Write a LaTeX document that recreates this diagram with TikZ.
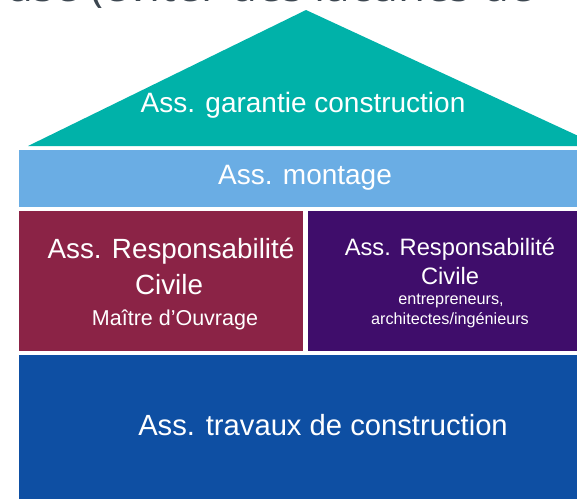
\documentclass[tikz,border=0pt]{standalone}
\usepackage{fontspec}
\setmainfont{Liberation Sans}
\newfontfamily\titlefont{Open Sans}
\definecolor{roofteal}{HTML}{00B2A9}
\definecolor{montblue}{HTML}{6AADE4}
\definecolor{rcred}{HTML}{8B2346}
\definecolor{rcpurple}{HTML}{3F0D6B}
\definecolor{workblue}{HTML}{0E4FA3}
\definecolor{titlegray}{HTML}{3C4650}
\tikzset{
  lbl/.style={text=white, inner sep=0pt},
  big/.style={font=\fontsize{28}{32}\selectfont},
  mid/.style={font=\fontsize{27.8}{32}\selectfont},
  midp/.style={font=\fontsize{23.7}{27}\selectfont},
  small/.style={font=\fontsize{21.5}{25}\selectfont},
  tiny/.style={font=\fontsize{16.2}{19}\selectfont}
}
\begin{document}
\begin{tikzpicture}[x=1pt,y=-1pt]
\useasboundingbox (0,0) rectangle (577,499);
\clip (0,0) rectangle (577,499);
\node[anchor=base east, inner sep=0pt, text=titlegray, font=\titlefont\fontsize{44}{50}\selectfont] (title) at (534,1) {use (éviter des lacunes de};
\draw[fill=roofteal, draw=none] (28,146) -- (306,10) -- (600,146) -- cycle;
\draw[fill=montblue, draw=none] (19,150) rectangle (577,207);
\draw[fill=rcred, draw=none] (19,211) rectangle (303,351);
\draw[fill=rcpurple, draw=none] (308,211) rectangle (577,351);
\draw[fill=workblue, draw=none] (19,355) rectangle (577,499);
\node[lbl, big] (roof) at (303,105) {Ass. garantie construction};
\node[lbl, big] (mont) at (305,178) {Ass. montage};
% responsabilite civile, maitre d'ouvrage
\node[lbl, mid] (rcmoa) at (171,251) {Ass. Responsabilité};
\node[lbl, mid] (rcmob) at (169,285) {Civile};
\node[lbl, small] (rcmoc) at (175,320) {Maître d’Ouvrage};
% responsabilite civile, entrepreneurs
\node[lbl, midp] (rcena) at (450,249) {Ass. Responsabilité};
\node[lbl, midp] (rcenb) at (450,276) {Civile};
\node[lbl, tiny] (rcenc) at (451,301) {entrepreneurs,};
\node[lbl, tiny] (rcend) at (450,320) {architectes/ingénieurs};
\node[lbl, font=\fontsize{29.2}{34}\selectfont] (work) at (323,425) {Ass. travaux de construction};
\end{tikzpicture}
\end{document}
